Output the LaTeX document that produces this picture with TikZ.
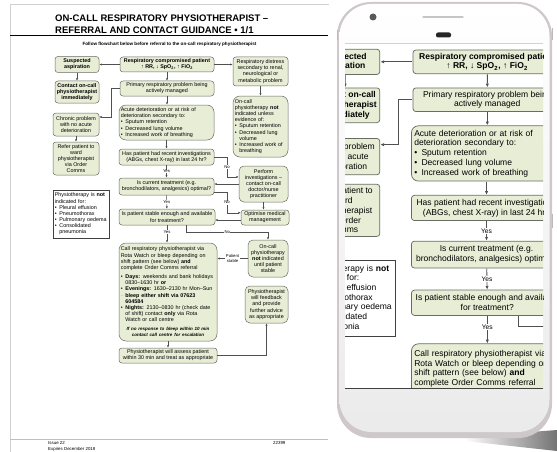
\documentclass[tikz,border=0pt]{standalone}
\usepackage{fontspec}
\setmainfont{Liberation Sans}
\usetikzlibrary{arrows.meta}
\definecolor{boxfill}{RGB}{232,237,214}
\definecolor{boxline}{RGB}{105,108,100}
\definecolor{linkgray}{RGB}{80,80,80}
\definecolor{phonerim}{RGB}{206,200,202}
\newcommand\fs{\fontsize{5.4}{6.15}\selectfont}
\newcommand\bl{\makebox[4.6pt][l]{•}}
\newcommand\ind{\hspace*{4.6pt}}
\tikzset{
  box/.style={draw=boxline, fill=boxfill, line width=0.5pt, rounded corners=3pt, inner sep=1.8pt, align=center, font=\fs},
  bigbox/.style={box, rounded corners=7pt},
  notebox/.style={draw=black!75, fill=white, line width=0.5pt, inner sep=1.8pt, align=left, font=\fs},
  flow/.style={draw=linkgray, line width=0.55pt, -{Latex[length=2.4pt,width=2.2pt]}},
  lbl/.style={fill=white, inner sep=0.5pt, align=center, font=\fontsize{4.2}{4.8}\selectfont},
}
\newcommand\flowchart{%
  \node[box, font=\fs\bfseries, minimum width=44, minimum height=16] at (77,64.5) (asp) {Suspected\\aspiration};
  \node[box, font=\fs\bfseries, minimum width=44, minimum height=22] at (77,92) (contact) {Contact on-call\\physiotherapist\\immediately};
  \node[box, minimum width=46, minimum height=23] at (76,124.5) (chronic) {Chronic problem\\with no acute\\deterioration};
  \node[box, minimum width=46, minimum height=33] at (76,158.5) (refer) {Refer patient to\\ward\\physiotherapist\\via Order\\Comms};
  \node[notebox, text width=52.4, minimum height=48] at (81,214) (notes) {Physiotherapy is \textbf{not}\\indicated for:\\\bl Pleural effusion\\\bl Pneumothorax\\\bl Pulmonary oedema\\\bl Consolidated\\\ind pneumonia};

  \node[box, font=\fs\bfseries, minimum width=94, minimum height=15] at (167,64.5) (rcp) {Respiratory compromised patient\\↑ RR, ↓ SpO\textsubscript{2}, ↑ FiO\textsubscript{2}};
  \node[box, minimum width=94, minimum height=15] at (167,88.5) (primary) {Primary respiratory problem being\\actively managed};
  \node[bigbox, align=left, text width=91.4, minimum height=35] at (166.5,122.5) (acute) {Acute deterioration or at risk of\\deterioration secondary to:\\\bl Sputum retention\\\bl Decreased lung volume\\\bl Increased work of breathing};
  \node[box, minimum width=95, minimum height=16] at (166.5,157) (invest) {Has patient had recent investigations\\(ABGs, chest X-ray) in last 24 hr?};
  \node[box, minimum width=95, minimum height=17] at (166.5,186.5) (current) {Is current treatment (e.g.\\bronchodilators, analgesics) optimal?};
  \node[box, minimum width=96, minimum height=16] at (167,217) (stable) {Is patient stable enough and available\\for treatment?};
  \node[bigbox, align=left, text width=94.4, minimum height=98] at (168,292) (call) {Call respiratory physiotherapist via\\Rota Watch or bleep depending on\\shift pattern (see below) \textbf{and}\\complete Order Comms referral\\[3pt]
    \bl\textbf{Days:} weekends and bank holidays\\\ind 0830–1630 hr \textbf{or}\\
    \bl\textbf{Evenings:} 1630–2130 hr Mon–Sun\\
    \makebox[4.6pt][l]{\textcolor{gray!60}{–}}\textbf{bleep either shift via 07623}\\\ind\textbf{604584}\\
    \bl\textbf{Nights:} 2130–0830 hr (check date\\\ind of shift) contact \textbf{only} via Rota\\\ind Watch or call centre\\[3pt]
    \makebox[\linewidth]{\fontsize{4.5}{5.4}\selectfont\bfseries\itshape If no response to bleep within 10 min}\\
    \makebox[\linewidth]{\fontsize{4.5}{5.4}\selectfont\bfseries\itshape contact call centre for escalation}};
  \node[box, minimum width=98, minimum height=15] at (168,355.5) (assess) {Physiotherapist will assess patient\\within 30 min and treat as appropriate};

  \node[box, minimum width=55, minimum height=29] at (260.5,71.5) (distress) {Respiratory distress\\secondary to renal,\\neurological or\\metabolic problem};
  \node[bigbox, align=left, text width=51.4, minimum height=61] at (260.5,126.5) (notind) {On-call\\physiotherapy \textbf{not}\\indicated unless\\evidence of:\\\bl Sputum retention\\\bl Decreased lung\\\ind volume\\\bl Increased work of\\\ind breathing};
  \node[box, rounded corners=5pt, minimum width=49, minimum height=36] at (263.5,184) (perform) {Perform\\investigations –\\contact on-call\\doctor/nurse\\practitioner};
  \node[box, minimum width=48, minimum height=15] at (265,217.5) (optimise) {Optimise medical\\management};
  \node[box, rounded corners=5pt, minimum width=40, minimum height=37] at (268,258.5) (until) {On-call\\physiotherapy\\\textbf{not} indicated\\until patient\\stable};
  \node[box, rounded corners=5pt, minimum width=43, minimum height=37] at (266.5,304.5) (feedback) {Physiotherapist\\will feedback\\and provide\\further advice\\as appropriate};

  \coordinate (bendL) at (111,0);
  \coordinate (noX) at (227,0);
  \coordinate (noY) at (0,232);

  \draw[flow] (rcp.west) -- (rcp.west -| asp.east);
  \draw[flow] (rcp.east) -- (rcp.east -| distress.west);
  \draw[flow] (asp) -- (contact);
  \draw[flow] (rcp) -- (primary);
  \draw[flow] (primary.west) -- (primary.west -| bendL) |- (chronic.18);
  \draw[flow] (chronic) -- (refer);
  \draw[flow] (primary.south) -- (primary.south |- acute.north);
  \draw[flow] (acute.south) -- (acute.south |- invest.north);
  \draw[flow] (distress) -- (notind);
  \draw[flow] (invest) -- node[lbl]{Yes} (current);
  \draw[flow] (current) -- node[lbl]{Yes} (stable);
  \draw[flow] (stable.south) -- node[lbl, pos=0.4]{Yes} (stable.south |- call.north);
  \draw[flow] (invest.east) -- (invest.east -| noX) |- node[lbl, pos=0.25]{No} (perform.164);
  \draw[flow] (perform.west) -- (perform.west -| current.east);
  \draw[flow] (current.-7) -- (current.-7 -| noX) |- node[lbl, pos=0.25]{No} (optimise.169);
  \draw[flow] (perform.south) -- (perform.south |- optimise.north);
  \draw[flow] (optimise.186) -- (optimise.186 -| stable.east);
  \draw[flow] (stable.-23) -- (stable.-23 |- noY) -| node[lbl, pos=0.25]{No} (until.north);
  \draw[flow] (until.west) -- node[lbl]{Patient\\stable} (until.west -| call.east);
  \draw[flow] (call) -- (assess);
  \draw[flow] (assess.east) -| (feedback.south);
}

\begin{document}
\begin{tikzpicture}[x=1pt, y=-1pt]
  \useasboundingbox (0,0) rectangle (557,452);
  \fill[white] (0,0) rectangle (557,452);

  % page
  \draw[gray!35, line width=0.5pt] (10,452) -- (10,4) -- (329,4);
  \node[anchor=west, align=left, inner sep=0pt, font=\fontsize{9.5}{12}\selectfont\bfseries] at (55,24.5) (title) {ON-CALL RESPIRATORY PHYSIOTHERAPIST –\\REFERRAL AND CONTACT GUIDANCE • 1/1};
  \draw[line width=0.9pt] (10,35.5) -- (328,35.5);
  \node[font=\fontsize{4.6}{5.5}\selectfont\bfseries] at (169.5,44) (subtitle) {Follow flowchart below before referral to the on-call respiratory physiotherapist};
  \flowchart
  \draw[gray!50, line width=0.6pt] (10,439) -- (328,439);
  \node[anchor=north west, align=left, inner sep=0pt, font=\fontsize{4.4}{5.8}\selectfont] at (48,441) (issue) {Issue 22\\Expires December 2018};
  \node[anchor=north west, inner sep=0pt, font=\fontsize{4.4}{5.8}\selectfont] at (273,441) (code) {22399};

  % phone
  \shade[left color=white, right color=black!55] (465,437) -- (557,430) -- (557,451) -- (465,441) -- cycle;
  \fill[phonerim, rounded corners=34pt] (337,2) rectangle (552,438);
  \shade[top color=white, bottom color=gray!16, rounded corners=32pt] (339.5,4) rectangle (549.5,432);
  \fill[gray!70!black] (373,17) circle (3.5pt);
  \draw[gray!45, line width=1.3pt, line cap=round] (423,17) -- (463,17);
  \fill[black!85, rounded corners=2pt] (436,32.5) rectangle (451,37.5);
  \draw[gray!55, line width=1pt] (337,30) -- (337,40);
  \draw[gray!55, line width=1pt] (552,28) -- (552,40);
  \draw[gray!55, line width=1pt] (552,214) -- (552,228);
  \begin{scope}
    \clip (345,43) rectangle (543,388);
    \fill[white] (345,43) rectangle (543,388);
    \begin{scope}[shift={(223.4,-40.1)}, scale=1.58, transform shape,
      box/.append style={line width=0.75pt}, notebox/.append style={line width=0.75pt},
      flow/.style={draw=linkgray, line width=0.8pt, -{Latex[length=3.6pt,width=3.3pt]}}]
      \flowchart
    \end{scope}
  \end{scope}
  \draw[gray!35, line width=0.4pt] (345,43) -- (543,43);
  \draw[black!75, line width=0.7pt] (345,388) -- (543,388);
\end{tikzpicture}
\end{document}
